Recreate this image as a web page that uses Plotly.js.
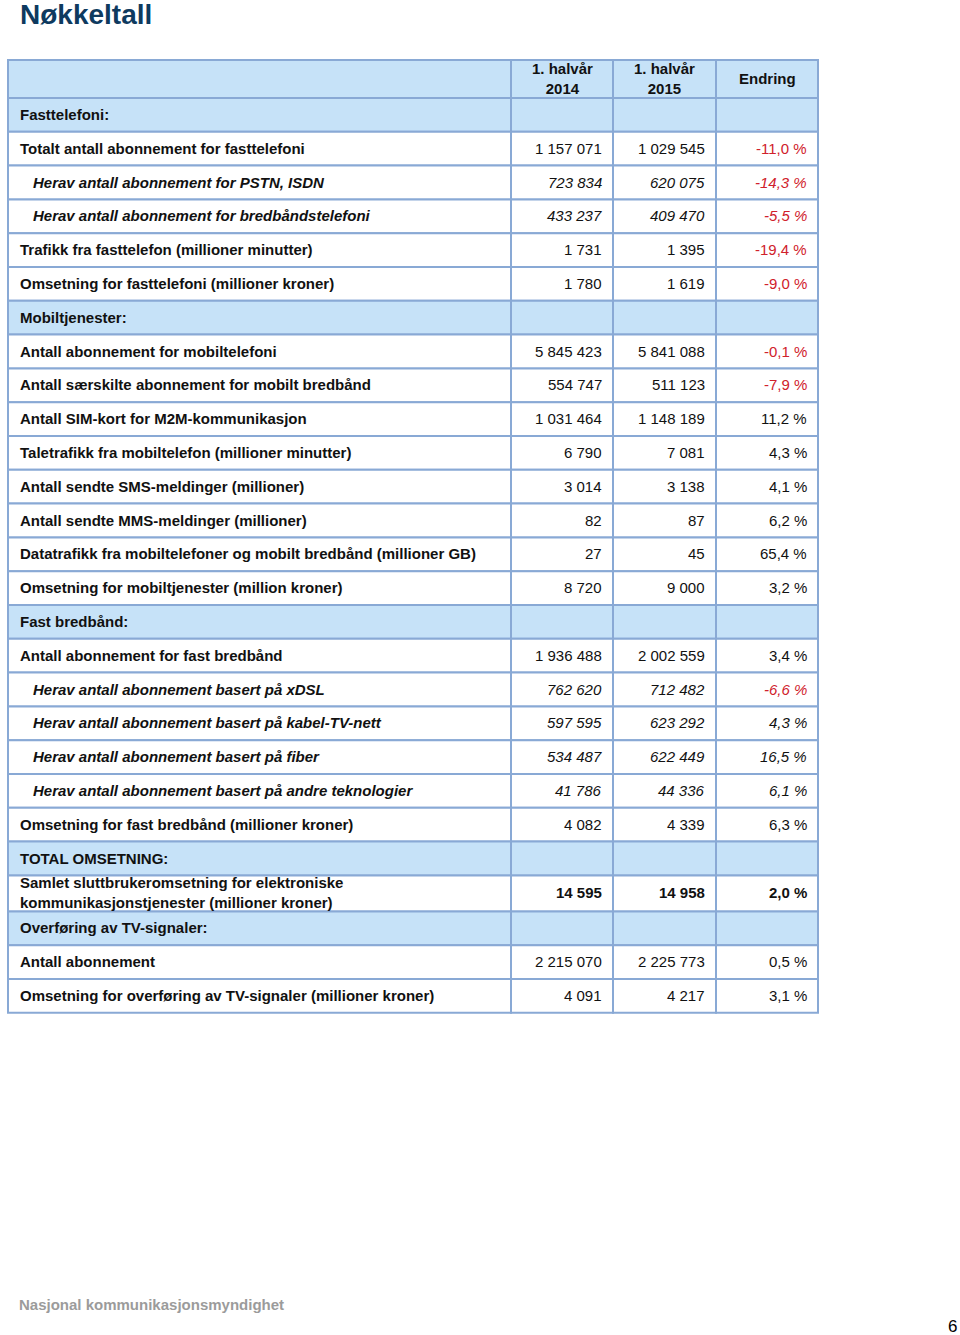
<!DOCTYPE html>
<html><head><meta charset="utf-8">
<script src="https://cdn.plot.ly/plotly-3.0.1.min.js"></script>
<style>html,body{margin:0;padding:0;background:#fff;} #chart{width:960px;height:1335px;}</style>
</head><body><div id="chart"></div>
<script>
// ---------- DATA ----------
const pageTitle = "Nøkkeltall";
const columnHeaders = ["", "1. halvår<br>2014", "1. halvår<br>2015", "Endring"];
const rowLabels = [
  "Fasttelefoni:",
  "Totalt antall abonnement for fasttelefoni",
  "Herav antall abonnement for PSTN, ISDN",
  "Herav antall abonnement for bredbåndstelefoni",
  "Trafikk fra fasttelefon (millioner minutter)",
  "Omsetning for fasttelefoni (millioner kroner)",
  "Mobiltjenester:",
  "Antall abonnement for mobiltelefoni",
  "Antall særskilte abonnement for mobilt bredbånd",
  "Antall SIM-kort for M2M-kommunikasjon",
  "Taletrafikk fra mobiltelefon (millioner minutter)",
  "Antall sendte SMS-meldinger (millioner)",
  "Antall sendte MMS-meldinger (millioner)",
  "Datatrafikk fra mobiltelefoner og mobilt bredbånd (millioner GB)",
  "Omsetning for mobiltjenester (million kroner)",
  "Fast bredbånd:",
  "Antall abonnement for fast bredbånd",
  "Herav antall abonnement basert på xDSL",
  "Herav antall abonnement basert på kabel-TV-nett",
  "Herav antall abonnement basert på fiber",
  "Herav antall abonnement basert på andre teknologier",
  "Omsetning for fast bredbånd (millioner kroner)",
  "TOTAL OMSETNING:",
  "Samlet sluttbrukeromsetning for elektroniske<br>kommunikasjonstjenester (millioner kroner)",
  "Overføring av TV-signaler:",
  "Antall abonnement",
  "Omsetning for overføring av TV-signaler (millioner kroner)"
];
const rowKind = [
  "section","main","sub","sub","main","main",
  "section","main","main","main","main","main","main","main","main",
  "section","main","sub","sub","sub","sub","main",
  "section","total",
  "section","main","main"
];
const firstHalf2014 = [
  null, 1157071, 723834, 433237, 1731, 1780,
  null, 5845423, 554747, 1031464, 6790, 3014, 82, 27, 8720,
  null, 1936488, 762620, 597595, 534487, 41786, 4082,
  null, 14595,
  null, 2215070, 4091
];
const firstHalf2015 = [
  null, 1029545, 620075, 409470, 1395, 1619,
  null, 5841088, 511123, 1148189, 7081, 3138, 87, 45, 9000,
  null, 2002559, 712482, 623292, 622449, 44336, 4339,
  null, 14958,
  null, 2225773, 4217
];
const changePct = [
  null, -11.0, -14.3, -5.5, -19.4, -9.0,
  null, -0.1, -7.9, 11.2, 4.3, 4.1, 6.2, 65.4, 3.2,
  null, 3.4, -6.6, 4.3, 16.5, 6.1, 6.3,
  null, 2.0,
  null, 0.5, 3.1
];
const footerText = "Nasjonal kommunikasjonsmyndighet";
const pageNumber = "6";

// ---------- LAYOUT / STYLE ----------
const W = 960, H = 1335;
const colEdges = [8, 511, 613, 716, 818];
const tableTop = 60, headerH = 38, rowH = 33.8, tallRowH = 36;
const FONT = "Liberation Sans, Arial, sans-serif";
const lineColor = "#89a9d5";
const blueFill = "#c6e2f8";
const red = "#d0212b";
const ink = "#111111";

function fmtInt(v){ return String(v).replace(/\B(?=(\d{3})+(?!\d))/g, " "); }
function fmtPct(v){ return v.toFixed(1).replace(".", ",") + " %"; }
function wrap(t, kind, isLabel){
  if (kind === "sub") return isLabel ? "<b><i>" + t + "</i></b>" : "<i>" + t + "</i>";
  if (kind === "total") return "<b>" + t + "</b>";
  if (isLabel) return "<b>" + t + "</b>";
  return t;
}

const shapes = [];
const annotations = [];

function cellRect(x0, x1, y0, y1, fill){
  shapes.push({type:"rect", xref:"x", yref:"y", x0:x0, x1:x1, y0:y0, y1:y1,
    fillcolor: fill, line:{color: lineColor, width: 2}, layer:"below"});
}

// header
let y = tableTop;
for (let c = 0; c < 4; c++) cellRect(colEdges[c], colEdges[c+1], y, y + headerH, blueFill);
for (let c = 1; c < 4; c++) {
  annotations.push({xref:"x", yref:"y", x:(colEdges[c]+colEdges[c+1])/2, y:y + headerH/2 - 1,
    xanchor:"center", yanchor:"middle", align:"center", showarrow:false,
    text:"<b>" + columnHeaders[c] + "</b>", font:{family:FONT, size:15, color:ink}});
}
y += headerH;

// body
for (let r = 0; r < rowLabels.length; r++) {
  const kind = rowKind[r];
  const h = rowLabels[r].includes("<br>") ? tallRowH : rowH;
  const fill = kind === "section" ? blueFill : "#ffffff";
  for (let c = 0; c < 4; c++) cellRect(colEdges[c], colEdges[c+1], y, y + h, fill);
  const yc = y + h/2 - 0.5;
  annotations.push({xref:"x", yref:"y", x: colEdges[0] + (kind === "sub" ? 23 : 10), y: yc,
    xanchor:"left", yanchor:"middle", align:"left", showarrow:false,
    text: wrap(rowLabels[r], kind, true), font:{family:FONT, size:15, color:ink}});
  const vals = [firstHalf2014[r], firstHalf2015[r]];
  for (let c = 0; c < 2; c++) {
    if (vals[c] === null) continue;
    annotations.push({xref:"x", yref:"y", x: colEdges[c+2] - 9, y: yc,
      xanchor:"right", yanchor:"middle", showarrow:false,
      text: wrap(fmtInt(vals[c]), kind, false), font:{family:FONT, size:15, color:ink}});
  }
  if (changePct[r] !== null) {
    annotations.push({xref:"x", yref:"y", x: colEdges[4] - 9, y: yc,
      xanchor:"right", yanchor:"middle", showarrow:false,
      text: wrap(fmtPct(changePct[r]), kind, false),
      font:{family:FONT, size:15, color: changePct[r] < 0 ? red : ink}});
  }
  y += h;
}

// page title, footer, page number
annotations.push({xref:"x", yref:"y", x:18, y:14, xanchor:"left", yanchor:"middle", showarrow:false,
  text:"<b>" + pageTitle + "</b>", font:{family:FONT, size:28, color:"#0e3a5f"}});
annotations.push({xref:"x", yref:"y", x:17, y:1304, xanchor:"left", yanchor:"middle", showarrow:false,
  text:"<b>" + footerText + "</b>", font:{family:FONT, size:15, color:"#9b9b9b"}});
annotations.push({xref:"x", yref:"y", x:946, y:1326, xanchor:"left", yanchor:"middle", showarrow:false,
  text: pageNumber, font:{family:FONT, size:17, color:"#000"}});

const layout = {
  width: W, height: H,
  margin: {l:0, r:0, t:0, b:0, pad:0},
  paper_bgcolor: "#ffffff", plot_bgcolor: "#ffffff",
  xaxis: {range:[0, W], visible:false, fixedrange:true},
  yaxis: {range:[H, 0], visible:false, fixedrange:true},
  showlegend: false,
  shapes: shapes,
  annotations: annotations
};
Plotly.newPlot("chart", [], layout, {staticPlot:true, displayModeBar:false});
</script>
</body></html>
